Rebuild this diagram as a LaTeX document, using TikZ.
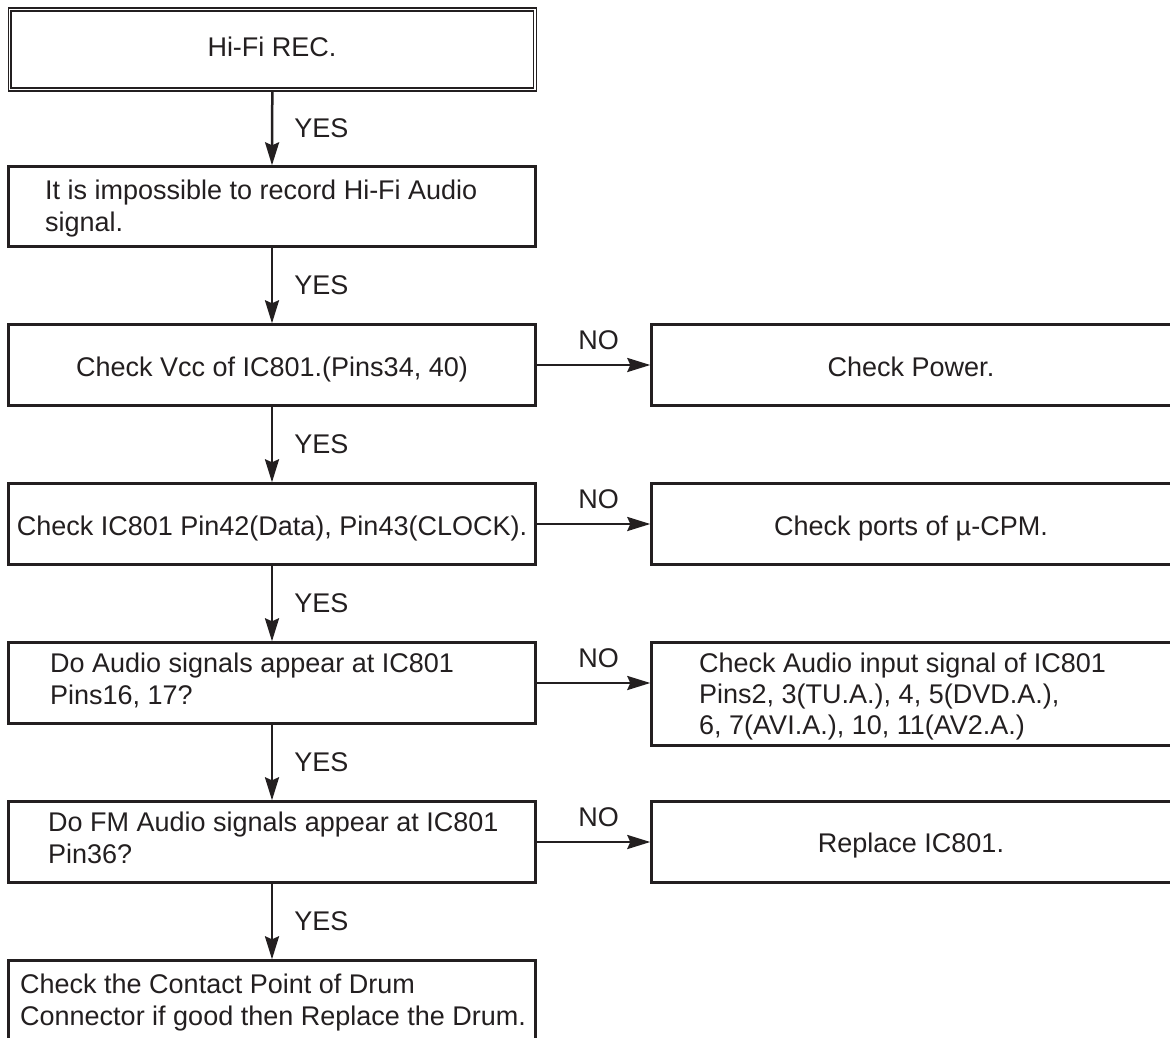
\documentclass[tikz,border=0pt]{standalone}
\usepackage{fontspec}
\setmainfont{Liberation Sans}
\usetikzlibrary{arrows.meta}
\definecolor{ink}{RGB}{35,31,32}
\begin{document}
\begin{tikzpicture}[x=1pt,y=-1pt,
  box/.style={draw=ink, line width=2.4pt, minimum width=527pt, inner sep=0pt},
  rbox/.style={draw=ink, line width=2.4pt, minimum width=519.5pt, inner sep=0pt},
  txt/.style={inner sep=0pt, text=ink, font=\fontsize{27}{32}\selectfont, align=left, anchor=base west},
  ctxt/.style={inner sep=0pt, text=ink, font=\fontsize{27}{32}\selectfont, anchor=base},
  flow/.style={draw=ink, line width=2.5pt, -{Stealth[length=23pt,width=14pt,inset=3pt]}},
  lbl/.style={inner sep=0pt, text=ink, font=\fontsize{27}{32}\selectfont}]
\path[use as bounding box, clip] (0,0) rectangle (1170,1038);
\fill[white] (0,0) rectangle (1170,1038);

% left column boxes
\node[draw=ink, double=white, line width=1.5pt, double distance=1.4pt, outer sep=2.2pt,
      minimum width=525.2pt, minimum height=79.9pt, inner sep=0pt] (b1) at (272.3,49.6) {};
\node[box, minimum height=80pt] (b2) at (272,206.5) {};
\node[box, minimum height=81pt] (b3) at (272,365) {};
\node[box, minimum height=81pt] (b4) at (272,524) {};
\node[box, minimum height=81pt] (b5) at (272,683) {};
\node[box, minimum height=81pt] (b6) at (272,842) {};
\node[box, minimum height=120pt] (b7) at (272,1020.5) {};

% right column boxes
\node[rbox, minimum height=81pt] (r3) at (911.25,365) {};
\node[rbox, minimum height=81pt] (r4) at (911.25,524) {};
\node[rbox, minimum height=103pt] (r5) at (911.25,694) {};
\node[rbox, minimum height=81pt] (r6) at (911.25,842) {};

% texts (base anchor = baseline of last line)
\node[ctxt] (t1) at (272,57) {Hi-Fi REC.};
\node[txt] (t2) at (45,231) {It is impossible to record Hi-Fi Audio\\signal.};
\node[ctxt] (t3) at (272,376) {Check Vcc of IC801.(Pins34, 40)};
\node[ctxt] (t4) at (272,535) {Check IC801 Pin42(Data), Pin43(CLOCK).};
\node[txt] (t5) at (50,704) {Do Audio signals appear at IC801\\Pins16, 17?};
\node[txt] (t6) at (48,863) {Do FM Audio signals appear at IC801\\Pin36?};
\node[txt] (t7) at (20,1025) {Check the Contact Point of Drum\\Connector if good then Replace the Drum.};
\node[ctxt] (u3) at (911,376) {Check Power.};
\node[ctxt] (u4) at (911,535) {Check ports of µ-CPM.};
\node[txt, font=\fontsize{27}{31}\selectfont] (u5) at (699,734) {Check Audio input signal of IC801\\Pins2, 3(TU.A.), 4, 5(DVD.A.),\\6, 7(AVI.A.), 10, 11(AV2.A.)};
\node[ctxt] (u6) at (911,852) {Replace IC801.};

% YES connectors
\draw[flow] (b1.south) -- (b2.north) node[lbl, midway, anchor=west, xshift=21pt] {YES};
\draw[flow] (b2.south) -- (b3.north) node[lbl, midway, anchor=west, xshift=21pt] {YES};
\draw[flow] (b3.south) -- (b4.north) node[lbl, midway, anchor=west, xshift=21pt] {YES};
\draw[flow] (b4.south) -- (b5.north) node[lbl, midway, anchor=west, xshift=21pt] {YES};
\draw[flow] (b5.south) -- (b6.north) node[lbl, midway, anchor=west, xshift=21pt] {YES};
\draw[flow] (b6.south) -- (b7.north) node[lbl, midway, anchor=west, xshift=21pt] {YES};

% NO connectors
\draw[flow] (b3.east) -- (r3.west) node[lbl, midway, anchor=south, xshift=5pt, yshift=14pt] {NO};
\draw[flow] (b4.east) -- (r4.west) node[lbl, midway, anchor=south, xshift=5pt, yshift=14pt] {NO};
\draw[flow] (b5.east) -- (r5.west |- b5.east) node[lbl, midway, anchor=south, xshift=5pt, yshift=14pt] {NO};
\draw[flow] (b6.east) -- (r6.west) node[lbl, midway, anchor=south, xshift=5pt, yshift=14pt] {NO};
\end{tikzpicture}
\end{document}
